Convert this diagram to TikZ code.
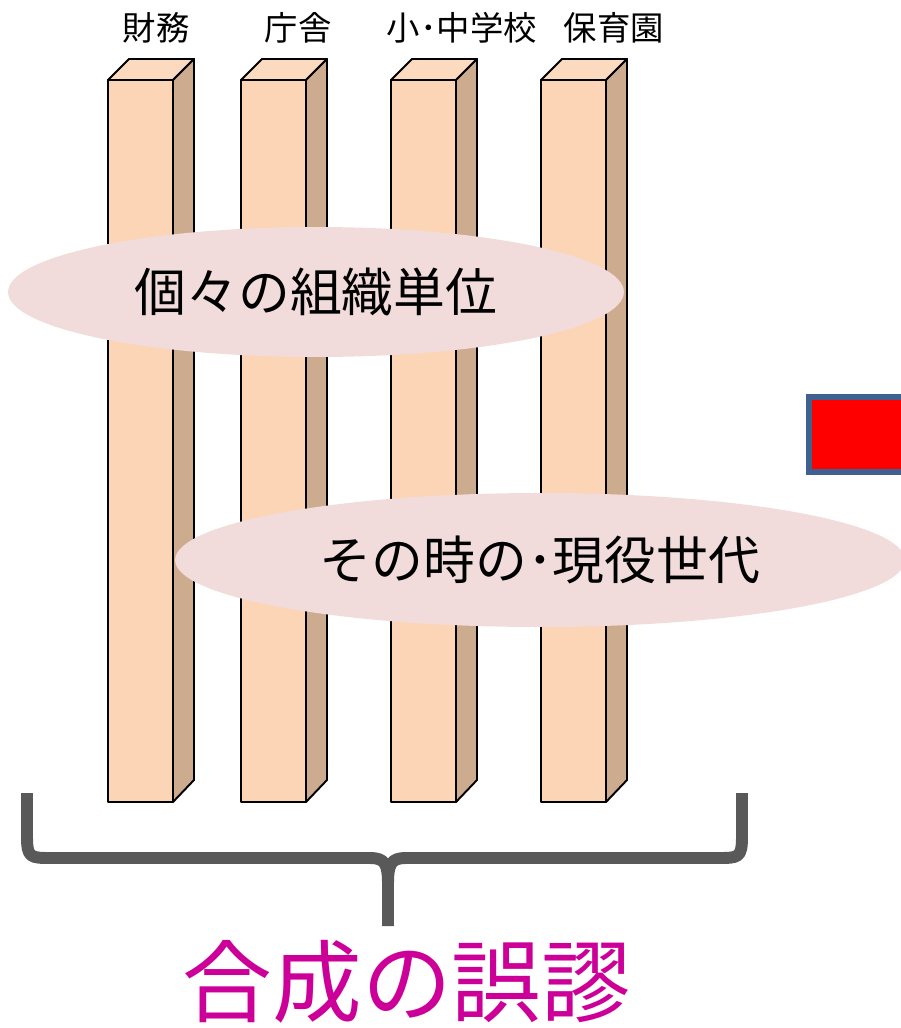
\documentclass[tikz,border=0pt]{standalone}
\usepackage{fontspec}
\newfontfamily\jp{Noto Sans CJK JP}
\usepackage{tikz}
\usetikzlibrary{shapes.geometric}

\definecolor{front}{HTML}{FBD5B5}
\definecolor{side}{HTML}{CDAB8F}
\definecolor{topf}{HTML}{FCDABF}
\definecolor{oval}{HTML}{F2DCDB}
\definecolor{bracegray}{HTML}{595959}
\definecolor{rim}{HTML}{3F6190}
\definecolor{title}{HTML}{CC0099}

\begin{document}
\begin{tikzpicture}[x=0.02cm, y=-0.02cm, face/.style={draw, line width=1.1pt, line join=round}, lbl/.style={font=\jp\fontsize{19}{22}\selectfont, inner sep=0pt}, bubble/.style={ellipse, fill=oval, inner sep=0pt, font=\jp\fontsize{29.5}{34}\selectfont}, brace/.style={draw=bracegray, line width=6.8pt, line join=round}]
            \useasboundingbox (0,0) rectangle (901,1028);
            % pillars
            \draw[face, fill=front] (108,80) rectangle (173,802);
            \draw[face, fill=topf] (108,80) -- (129,59) -- (194,59) -- (173,80) -- cycle;
            \draw[face, fill=side] (173,80) -- (194,59) -- (194,780) -- (173,802) -- cycle;

            \draw[face, fill=front] (241,80) rectangle (306,802);
            \draw[face, fill=topf] (241,80) -- (262,59) -- (327,59) -- (306,80) -- cycle;
            \draw[face, fill=side] (306,80) -- (327,59) -- (327,780) -- (306,802) -- cycle;

            \draw[face, fill=front] (391,80) rectangle (456,802);
            \draw[face, fill=topf] (391,80) -- (412,59) -- (477,59) -- (456,80) -- cycle;
            \draw[face, fill=side] (456,80) -- (477,59) -- (477,780) -- (456,802) -- cycle;

            \draw[face, fill=front] (541,80) rectangle (606,802);
            \draw[face, fill=topf] (541,80) -- (562,59) -- (627,59) -- (606,80) -- cycle;
            \draw[face, fill=side] (606,80) -- (627,59) -- (627,780) -- (606,802) -- cycle;

            % nodes
            \node[lbl] (zaimu) at (156,28) {財務};
            \node[lbl] (chosha) at (298,28) {庁舎};
            \node[lbl] (gakko) at (462,28) {小･中学校};
            \node[lbl] (hoiku) at (614,28) {保育園};

            \node[bubble, minimum width=12.32cm, minimum height=2.6cm] (soshiki) at (316,292) {個々の組織単位};
            \node[bubble, minimum width=14.6cm, minimum height=2.68cm] (sedai) at (540,560) {その時の･現役世代};

            \node[draw=rim, fill=red, line width=3.4pt, minimum width=2.2cm, minimum height=1.5cm, anchor=north west] (mark) at (806,394) {};

            \node[text=title, font=\jp\fontsize{51}{58}\selectfont, inner sep=0pt] (gosei) at (407,982) {合成の誤謬};

            % brace
            \draw[brace] (27,793) -- (27,836) .. controls (27,858) and (30,858) .. (52,858) -- (370,858) .. controls (385,858) and (388,864) .. (388,884) -- (388,926);
            \draw[brace] (742,793) -- (742,836) .. controls (742,858) and (739,858) .. (717,858) -- (406,858) .. controls (391,858) and (388,864) .. (388,884);
        \end{tikzpicture}
\end{document}
